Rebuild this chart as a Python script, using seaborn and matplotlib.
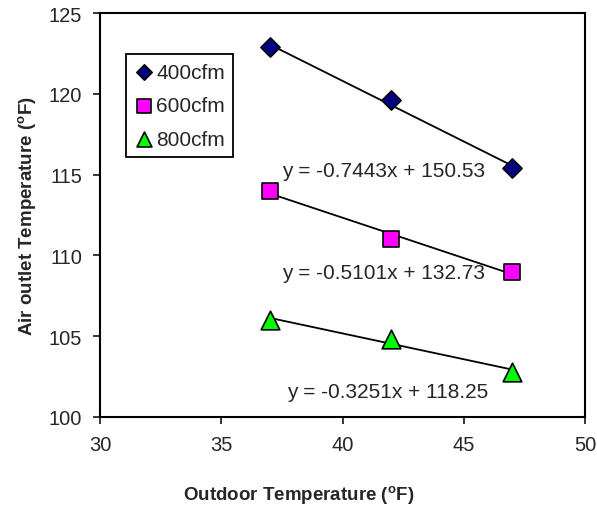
import numpy as np
import pandas as pd
import matplotlib
matplotlib.use("Agg")
import matplotlib.pyplot as plt
import seaborn as sns

# data
outdoor_temp = [37, 42, 47]
outlet_400 = [122.9, 119.6, 115.4]
outlet_600 = [114.0, 111.0, 109.0]
outlet_800 = [106.0, 104.8, 102.8]

series_names = ["400cfm", "600cfm", "800cfm"]
equations = ["y = -0.7443x + 150.53", "y = -0.5101x + 132.73", "y = -0.3251x + 118.25"]

sns.set_style("white")
plt.rcParams["font.family"] = ["Liberation Sans", "DejaVu Sans"]
plt.rcParams["mathtext.fontset"] = "custom"
plt.rcParams["mathtext.bf"] = "Liberation Sans:bold"
plt.rcParams["mathtext.rm"] = "Liberation Sans"

df = pd.DataFrame({
    "Outdoor": outdoor_temp * 3,
    "Outlet": outlet_400 + outlet_600 + outlet_800,
    "Flow": np.repeat(series_names, 3),
})

fig = plt.figure(figsize=(5.97, 5.10), dpi=100)
ax = fig.add_axes([0.1675, 0.1804, 0.8125, 0.7921])

styles = {
    "400cfm": dict(marker="D", color="#000080", s=95),
    "600cfm": dict(marker="s", color="#FF00FF", s=140),
    "800cfm": dict(marker="^", color="#00FF00", s=180),
}

for name in series_names:
    sub = df[df["Flow"] == name]
    # trendline (linear fit)
    sns.regplot(data=sub, x="Outdoor", y="Outlet", ax=ax, scatter=False, ci=None,
                truncate=True, line_kws=dict(color="black", lw=1.3))
    st = styles[name]
    sns.scatterplot(data=sub, x="Outdoor", y="Outlet", ax=ax, marker=st["marker"],
                    color=st["color"], s=st["s"], edgecolor="black", linewidth=1.2,
                    label=name, zorder=3)

# trendline equations
ax.text(41.7, 115.25, equations[0], ha="center", va="center", fontsize=15)
ax.text(41.7, 108.95, equations[1], ha="center", va="center", fontsize=15)
ax.text(41.85, 101.6, equations[2], ha="center", va="center", fontsize=15)

ax.set_xlim(30, 50)
ax.set_ylim(100, 125)
ax.set_xticks([30, 35, 40, 45, 50])
ax.set_yticks([100, 105, 110, 115, 120, 125])
ax.tick_params(axis="both", direction="out", length=5, width=1.3, labelsize=14.5,
               left=True, bottom=True, pad=8)
for sp in ax.spines.values():
    sp.set_color("black")
    sp.set_linewidth(1.5)

ax.set_xlabel(r"Outdoor Temperature ($^{\mathbf{o}}$F)", fontsize=13.5, fontweight="bold")
ax.set_ylabel(r"Air outlet Temperature ($^{\mathbf{o}}$F)", fontsize=13.5, fontweight="bold")
ax.xaxis.set_label_coords(0.41, -0.163)
ax.yaxis.set_label_coords(-0.125, 0.5)

leg = ax.legend(loc="upper left", bbox_to_anchor=(0.054, 0.898), borderaxespad=0,
                fontsize=15, markerscale=0.8, handletextpad=0.15, handlelength=0.9,
                labelspacing=0.7, borderpad=0.4, fancybox=False, framealpha=1)
leg.get_frame().set_edgecolor("black")
leg.get_frame().set_linewidth(1.3)

fig.savefig("out.png", dpi=100)
